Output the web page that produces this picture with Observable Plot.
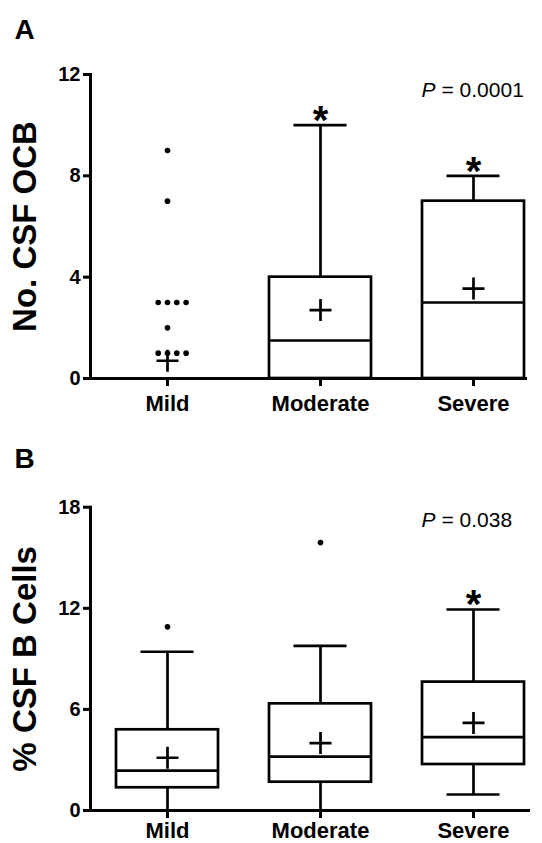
<!DOCTYPE html>
<html><head><meta charset="utf-8">
<script src="https://cdn.jsdelivr.net/npm/d3@7"></script>
<script src="https://cdn.jsdelivr.net/npm/@observablehq/plot@0.6"></script>
<style>
html,body{margin:0;padding:0;background:#fff;}
#chart{width:542px;}
#chart svg{display:block;}
</style></head><body><div id="chart"></div>
<script>
const categories = ["Mild", "Moderate", "Severe"];

// Panel A: No. CSF OCB
const ocbLow = [0, 0, 0];
const ocbQ1 = [0, 0, 0];
const ocbMedian = [0, 1.5, 3];
const ocbQ3 = [0, 4, 7];
const ocbHigh = [0, 10, 8];
const ocbMean = [0.7, 2.7, 3.55];
const ocbSignificant = [false, true, true];
const ocbOutlierCategory = ["Mild", "Mild", "Mild", "Mild", "Mild", "Mild", "Mild", "Mild", "Mild", "Mild", "Mild"];
const ocbOutlierValue = [9, 7, 3, 3, 3, 3, 2, 1, 1, 1, 1];
const ocbTicks = [0, 4, 8, 12];
const ocbTitle = "No. CSF OCB";
const ocbP = "= 0.0001";

// Panel B: % CSF B Cells
const bLow = [0, 0, 0.95];
const bQ1 = [1.35, 1.68, 2.73];
const bMedian = [2.37, 3.2, 4.35];
const bQ3 = [4.79, 6.33, 7.62];
const bHigh = [9.42, 9.77, 11.93];
const bMean = [3.13, 4.0, 5.2];
const bSignificant = [false, false, true];
const bOutlierCategory = ["Mild", "Moderate"];
const bOutlierValue = [10.9, 15.9];
const bTicks = [0, 6, 12, 18];
const bTitle = "% CSF B Cells";
const bP = "= 0.038";

const FONT = "'Liberation Sans', Arial, Helvetica, sans-serif";
const SW = 2.7;

const plusSymbol = {
  draw(ctx, size) {
    const r = Math.sqrt(size / Math.PI);
    ctx.moveTo(-r, 0); ctx.lineTo(r, 0);
    ctx.moveTo(0, -r); ctx.lineTo(0, r);
  }
};

function panel(cfg) {
  const rows = categories.map((c, i) => ({
    cat: c, low: cfg.low[i], q1: cfg.q1[i], med: cfg.median[i], q3: cfg.q3[i],
    high: cfg.high[i], mean: cfg.mean[i], sig: cfg.sig[i]
  }));
  const outliers = cfg.outCat.map((c, i) => ({cat: c, v: cfg.outVal[i]}));
  // arrange tied outliers side by side
  const groups = d3.group(outliers, d => d.cat + "|" + d.v);
  for (const g of groups.values()) {
    const base = Math.floor((g.length - 1) / 2);
    g.forEach((d, k) => d.k = k - base);
  }
  const ks = Array.from(new Set(outliers.map(d => d.k)));
  const dotMarks = ks.map(k => Plot.dot(outliers.filter(d => d.k === k), {
    x: "cat", y: "v", r: 2.8, fill: "black", dx: k * 9.3
  }));
  const domMax = cfg.ticks[cfg.ticks.length - 1];
  return Plot.plot({
    width: 542,
    height: cfg.height,
    marginLeft: 90,
    marginRight: cfg.marginRight,
    marginTop: cfg.marginTop,
    marginBottom: cfg.marginBottom,
    style: {fontFamily: FONT, color: "black", background: "white", overflow: "visible"},
    x: {type: "band", domain: categories, range: [64.5, 574.5], padding: 1 / 3},
    y: {domain: [0, domMax]},
    marks: [
      Plot.ruleX(rows, {x: "cat", y1: "q3", y2: "high", stroke: "black", strokeWidth: SW}),
      Plot.ruleX(rows, {x: "cat", y1: "low", y2: "q1", stroke: "black", strokeWidth: SW}),
      Plot.tickY(rows, {x: "cat", y: "high", stroke: "black", strokeWidth: SW, insetLeft: 24.5, insetRight: 24.5}),
      Plot.tickY(rows, {x: "cat", y: "low", stroke: "black", strokeWidth: SW, insetLeft: 24.5, insetRight: 24.5}),
      Plot.barY(rows, {x: "cat", y1: "q1", y2: "q3", fill: "white", stroke: "black", strokeWidth: SW}),
      Plot.tickY(rows, {x: "cat", y: "med", stroke: "black", strokeWidth: SW}),
      Plot.dot(rows, {x: "cat", y: "mean", symbol: plusSymbol, r: 11, stroke: "black", strokeWidth: SW, fill: "none"}),
      ...dotMarks,
      Plot.text(rows.filter(d => d.sig), {x: "cat", y: "high", text: () => "*", fontSize: 40, fontWeight: "bold", lineAnchor: "bottom", dy: 9}),
      Plot.frame({anchor: "left", stroke: "black", strokeWidth: 3}),
      Plot.frame({anchor: "bottom", stroke: "black", strokeWidth: 3}),
      Plot.axisY({ticks: cfg.ticks, tickSize: 7, tickPadding: 3, fontSize: 20, fontWeight: "bold", strokeWidth: 3, label: null, tickFormat: d3.format("d")}),
      Plot.axisX({tickSize: 8, tickPadding: cfg.xPad, fontSize: 22, fontWeight: "bold", strokeWidth: 3, label: null}),
      Plot.text([cfg.letter], {text: d => d, frameAnchor: "top-left", dx: -76, dy: cfg.letterDy, fontSize: 28, fontWeight: "bold", textAnchor: "start", lineAnchor: "bottom"}),
      Plot.text([cfg.title], {text: d => d, frameAnchor: "left", dx: -65, rotate: -90, fontSize: 33, fontWeight: "bold", textAnchor: "middle", lineAnchor: "middle"}),
      Plot.text(["P"], {text: d => d, frameAnchor: "top-left", dx: 331, dy: cfg.pDy, fontSize: 21, fontStyle: "italic", textAnchor: "start", lineAnchor: "bottom"}),
      Plot.text([cfg.p], {text: d => d, frameAnchor: "top-left", dx: 351, dy: cfg.pDy, fontSize: 21, textAnchor: "start", lineAnchor: "bottom"})
    ]
  });
}

const chart = document.getElementById("chart");
chart.append(panel({
  low: ocbLow, q1: ocbQ1, median: ocbMedian, q3: ocbQ3, high: ocbHigh, mean: ocbMean, sig: ocbSignificant,
  outCat: ocbOutlierCategory, outVal: ocbOutlierValue, ticks: ocbTicks, title: ocbTitle, p: ocbP, letter: "A",
  height: 421, marginTop: 74, marginBottom: 43, marginRight: 17, letterDy: -36, pDy: 22, xPad: 9
}));
chart.append(panel({
  low: bLow, q1: bQ1, median: bMedian, q3: bQ3, high: bHigh, mean: bMean, sig: bSignificant,
  outCat: bOutlierCategory, outVal: bOutlierValue, ticks: bTicks, title: bTitle, p: bP, letter: "B",
  height: 422, marginTop: 85.7, marginBottom: 33, marginRight: 14, letterDy: -39.7, pDy: 20, xPad: 4
}));
</script></body></html>
